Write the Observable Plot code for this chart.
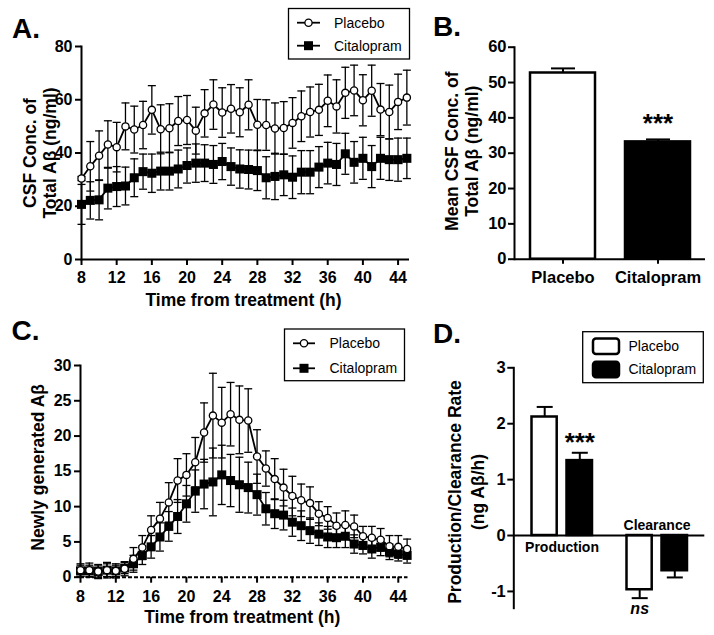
<!DOCTYPE html>
<html><head><meta charset="utf-8">
<script src="https://cdn.jsdelivr.net/npm/d3@7"></script>
<script src="https://cdn.jsdelivr.net/npm/@observablehq/plot@0.6"></script>
<style>
body{margin:0;background:#fff;}
#root{position:relative;width:714px;height:635px;overflow:hidden;background:#fff;}
</style></head><body><div id="root"></div>
<script>
// ---------------- DATA ----------------
const hours = [8,9,10,11,12,13,14,15,16,17,18,19,20,21,22,23,24,25,26,27,28,29,30,31,32,33,34,35,36,37,38,39,40,41,42,43,44,45];
const xTicks = [8,12,16,20,24,28,32,36,40,44];
const treatments = ["Placebo", "Citalopram"];

// Panel A: CSF concentration of total Abeta (ng/ml), mean and SEM
const placeboA = [30.4,35.0,39.0,43.2,42.2,50.0,48.8,50.5,56.2,48.9,49.3,52.0,52.4,48.4,54.9,58.2,55.2,56.6,55.3,58.1,50.6,50.5,49.2,49.4,51.3,53.8,55.4,56.2,59.6,57.5,62.6,63.5,59.8,63.4,56.3,55.4,59.2,60.8];
const placeboAErr = [0.8,9.3,9.3,8.9,9.3,8.8,8.8,8.9,9.1,9.2,9.2,9.2,9.2,8.8,8.9,9.3,9.3,9.1,9.2,9.4,9.5,9.5,9.6,9.9,9.5,9.5,9.4,9.6,9.7,10.0,9.6,9.5,9.6,9.6,9.8,10.1,10.4,10.3];
const citalopramA = [20.7,22.2,22.4,26.8,27.4,27.6,30.7,33.0,32.4,33.2,33.2,34.0,35.3,36.2,36.2,35.7,36.8,34.9,34.0,33.8,33.4,30.7,31.2,31.8,30.9,32.8,32.8,34.7,36.2,35.7,39.7,36.5,38.0,34.9,38.0,37.5,37.5,38.0];
const citalopramAErr = [7.5,7.0,7.5,7.8,7.5,7.1,7.1,6.6,7.2,7.1,7.1,7.1,6.6,7.2,6.9,7.1,6.8,7.0,7.2,7.3,7.5,7.9,8.7,7.8,8.0,8.1,8.1,7.7,7.8,7.9,7.7,7.8,7.9,7.9,7.9,7.8,8.1,7.6];
const yTicksA = [0,20,40,60,80];

// Panel B: mean CSF concentration
const meanB = [52.7, 33.2];
const errB = [1.3, 0.7];
const yTicksB = [0,10,20,30,40,50,60];

// Panel C: newly generated Abeta
const placeboC = [1.0,1.0,0.8,1.0,0.9,1.2,2.6,4.2,6.7,8.3,10.6,13.7,14.5,16.3,20.5,22.9,21.9,23.1,22.3,22.2,17.1,15.4,13.9,12.7,11.5,10.9,10.5,9.0,8.4,7.3,7.4,7.2,5.8,5.6,5.3,4.4,4.3,4.0];
const placeboCErr = [0.9,1.0,1.0,1.1,1.0,1.0,1.6,1.7,2.0,2.3,2.8,3.1,3.0,3.5,4.2,6.0,5.0,4.5,4.8,4.5,3.8,2.5,2.9,2.6,2.8,2.3,2.3,1.7,1.6,1.8,2.0,1.6,1.4,1.6,1.6,1.5,1.6,1.4];
const citalopramC = [0.9,0.9,0.8,1.0,0.9,1.3,1.9,3.1,4.3,5.7,7.2,8.6,10.4,12.2,13.2,13.5,14.5,13.7,13.1,12.7,11.7,9.7,9.0,8.8,7.8,7.3,6.6,6.1,5.7,5.6,5.8,4.7,4.5,4.0,4.25,3.6,3.3,3.1];
const citalopramCErr = [0.8,0.8,0.8,0.9,0.8,0.8,1.2,1.3,1.6,2.0,2.1,2.4,2.6,3.0,3.5,4.8,4.2,3.7,3.9,3.6,2.9,2.3,2.1,2.1,2.0,2.1,1.8,1.6,1.5,1.4,1.6,1.3,1.2,1.3,1.2,1.1,1.0,1.1];
const yTicksC = [0,5,10,15,20,25,30];

// Panel D: production / clearance rate (ng Abeta/h)
const groupsD = ["Production", "Clearance"];
const placeboD = [2.12, -0.97];
const placeboDErr = [0.18, 0.15];
const citalopramD = [1.34, -0.63];
const citalopramDErr = [0.14, 0.12];
const yTicksD = [-1,0,1,2,3];

// ---------------- DRAWING ----------------
const root = document.getElementById("root");
const FONT = '"Liberation Sans", Arial, Helvetica, sans-serif';
const baseStyle = {fontFamily: FONT, fontSize: "16px", fontWeight: "bold", background: "transparent", overflow: "visible", color: "black"};
const capSymbol = {draw(ctx, size) { const r = Math.sqrt(size / Math.PI); ctx.moveTo(-r, 0); ctx.lineTo(r, 0); }};

function place(svg, left, top) {
  svg.style.position = "absolute";
  svg.style.left = left + "px";
  svg.style.top = top + "px";
  svg.style.maxWidth = "none";
  root.appendChild(svg);
}
function rows(xs, means, errs) { return xs.map((x, i) => ({x, v: means[i], e: errs[i]})); }
function errorMarks(data, capR) {
  return [
    Plot.ruleX(data, {x: "x", y1: d => d.v - d.e, y2: d => d.v + d.e, stroke: "black", strokeWidth: 1.3}),
    Plot.dot(data, {x: "x", y: d => d.v + d.e, symbol: capSymbol, r: capR, fill: "none", stroke: "black", strokeWidth: 1.3}),
    Plot.dot(data, {x: "x", y: d => d.v - d.e, symbol: capSymbol, r: capR, fill: "none", stroke: "black", strokeWidth: 1.3})
  ];
}
function yTitle(text, dx, dy, lh) {
  return Plot.text([text], {frameAnchor: "left", textAnchor: "middle", lineAnchor: "middle", rotate: -90, dx, dy, lineHeight: lh, fontSize: 17.5, fontWeight: "bold"});
}
function timeCourse(o) {
  const P = rows(hours, o.placebo, o.placeboErr);
  const C = rows(hours, o.citalopram, o.citalopramErr);
  return Plot.plot({
    width: o.width, height: o.height,
    marginLeft: o.ml, marginRight: o.mr, marginTop: o.mt, marginBottom: o.mb,
    style: baseStyle,
    x: {domain: o.xDomain}, y: {domain: o.yDomain},
    marks: [
      Plot.axisY({ticks: o.yTicks, tickSize: 6, tickPadding: 3, tickFormat: d => String(d), strokeWidth: 2, fontSize: 16, fontWeight: "bold", label: null}),
      Plot.axisX({ticks: xTicks, tickSize: 6, tickPadding: o.xPad, tickFormat: d => String(d), strokeWidth: 2, fontSize: 16, fontWeight: "bold", label: null}),
      Plot.frame({anchor: "left", stroke: "black", strokeWidth: 2}),
      Plot.ruleY([o.yDomain[0]], {stroke: "black", strokeWidth: 2, strokeDasharray: o.baseDash}),
      ...errorMarks(C, 4), ...errorMarks(P, 4),
      Plot.line(C, {x: "x", y: "v", stroke: "black", strokeWidth: 1.8}),
      Plot.line(P, {x: "x", y: "v", stroke: "black", strokeWidth: 1.8}),
      Plot.dot(C, {x: "x", y: "v", symbol: "square", r: 5.1, fill: "black", stroke: "none"}),
      Plot.dot(P, {x: "x", y: "v", symbol: "circle", r: 3.6, fill: "white", stroke: "black", strokeWidth: 1.3}),
      yTitle(o.yTitle, o.yTitleDx, o.yTitleDy, o.lh),
      Plot.text(["Time from treatment (h)"], {frameAnchor: "bottom", textAnchor: "middle", lineAnchor: "middle", dx: -2, dy: o.xTitleDy, fontSize: 17.5, fontWeight: "bold"})
    ]
  });
}

// Panel A
place(timeCourse({
  width: 420, height: 310, ml: 81, mr: 11, mt: 46, mb: 51,
  xDomain: [8, 45.3], yDomain: [0, 80], yTicks: yTicksA, xPad: 6,
  placebo: placeboA, placeboErr: placeboAErr, citalopram: citalopramA, citalopramErr: citalopramAErr,
  yTitle: "CSF Conc. of\nTotal A\u03b2 (ng/ml)", yTitleDx: -42, yTitleDy: 0, lh: 1.12, xTitleDy: 41
}), 0, 0);

// Panel C
place(timeCourse({
  width: 420, height: 325, ml: 80, mr: 12.5, mt: 55, mb: 58.3,
  xDomain: [8, 45.1], yDomain: [0, 30], yTicks: yTicksC, xPad: 7, baseDash: "4,2",
  placebo: placeboC, placeboErr: placeboCErr, citalopram: citalopramC, citalopramErr: citalopramCErr,
  yTitle: "Newly generated A\u03b2", yTitleDx: -42, yTitleDy: -4, lh: 1, xTitleDy: 40
}), 0, 310);

// Panel B
const rowsB = treatments.map((t, i) => ({g: t, v: meanB[i], e: errB[i]}));
place(Plot.plot({
  width: 314, height: 310, marginLeft: 114, marginRight: 9, marginTop: 46.7, marginBottom: 51.3,
  style: baseStyle,
  x: {domain: treatments, paddingInner: 0.316, paddingOuter: 0.163},
  y: {domain: [0, 60]},
  color: {domain: treatments, range: ["white", "black"]},
  marks: [
    Plot.ruleX(rowsB, {x: "g", y1: "v", y2: d => d.v + d.e, stroke: "black", strokeWidth: 2}),
    Plot.dot(rowsB, {x: "g", y: d => d.v + d.e, symbol: capSymbol, r: 12, fill: "none", stroke: "black", strokeWidth: 2}),
    Plot.barY(rowsB, {x: "g", y: "v", fill: "g", stroke: "black", strokeWidth: 2.5}),
    Plot.axisY({ticks: yTicksB, tickSize: 6, tickPadding: 2, tickFormat: d => String(d), strokeWidth: 2, fontSize: 16.5, fontWeight: "bold", label: null}),
    Plot.axisX({tickSize: 5, tickPadding: 7, strokeWidth: 2, fontSize: 16.5, fontWeight: "bold", label: null}),
    Plot.frame({anchor: "left", stroke: "black", strokeWidth: 2}),
    Plot.ruleY([0], {stroke: "black", strokeWidth: 2}),
    Plot.text(rowsB.filter(d => d.g === "Citalopram"), {x: "g", y: d => d.v + d.e, text: () => "***", lineAnchor: "bottom", dy: -7, fontSize: 26, fontWeight: "bold"}),
    yTitle("Mean CSF Conc. of\nTotal A\u03b2 (ng/ml)", -53, -2, 1.12)
  ]
}), 400, 0);

// Panel D
const rowsD = groupsD.flatMap((g, i) => [
  {g, t: "Placebo", v: placeboD[i], e: placeboDErr[i]},
  {g, t: "Citalopram", v: citalopramD[i], e: citalopramDErr[i]}
]);
const errEnd = d => d.v + Math.sign(d.v) * d.e;
const Pd = rowsD.filter(d => d.t === "Placebo");
const Cd = rowsD.filter(d => d.t === "Citalopram");
place(Plot.plot({
  width: 314, height: 325, marginLeft: 113.3, marginRight: 9.7, marginTop: 57.3, marginBottom: 27.3,
  style: baseStyle,
  x: {domain: groupsD, paddingInner: 0.316, paddingOuter: 0.163, axis: null},
  y: {domain: [-1.3, 3]},
  color: {domain: treatments, range: ["white", "black"]},
  marks: [
    Plot.ruleX(Pd, {x: "g", y1: "v", y2: errEnd, dx: -17.3, stroke: "black", strokeWidth: 2}),
    Plot.ruleX(Cd, {x: "g", y1: "v", y2: errEnd, dx: 17.8, stroke: "black", strokeWidth: 2}),
    Plot.dot(Pd, {x: "g", y: errEnd, dx: -17.3, symbol: capSymbol, r: 8, fill: "none", stroke: "black", strokeWidth: 2}),
    Plot.dot(Cd, {x: "g", y: errEnd, dx: 17.8, symbol: capSymbol, r: 8, fill: "none", stroke: "black", strokeWidth: 2}),
    Plot.barY(Pd, {x: "g", y: "v", fill: "t", stroke: "black", strokeWidth: 2.5, insetLeft: 2.5, insetRight: 37.3}),
    Plot.barY(Cd, {x: "g", y: "v", fill: "t", stroke: "black", strokeWidth: 2.5, insetLeft: 37.5, insetRight: 2}),
    Plot.axisY({ticks: yTicksD, tickSize: 6, tickPadding: 2, tickFormat: d => String(d), strokeWidth: 2, fontSize: 16.5, fontWeight: "bold", label: null}),
    Plot.frame({anchor: "left", stroke: "black", strokeWidth: 2}),
    Plot.ruleY([0], {stroke: "black", strokeWidth: 2}),
    Plot.text(groupsD.filter(g => g === "Production"), {x: d => d, y: () => 0, text: d => d, lineAnchor: "bottom", dy: 16.7, fontSize: 14, fontWeight: "bold"}),
    Plot.text(groupsD.filter(g => g === "Clearance"), {x: d => d, y: () => 0, text: d => d, lineAnchor: "bottom", dy: -6, fontSize: 14, fontWeight: "bold"}),
    Plot.text(Cd.filter(d => d.g === "Production"), {x: "g", y: errEnd, dx: 17.8, text: () => "***", lineAnchor: "bottom", dy: -1.5, fontSize: 26, fontWeight: "bold"}),
    Plot.text(Pd.filter(d => d.g === "Clearance"), {x: "g", y: errEnd, dx: -17.3, text: () => "ns", lineAnchor: "bottom", dy: 15.4, fontSize: 16, fontWeight: "bold", fontStyle: "italic"}),
    yTitle("Production/Clearance Rate\n(ng A\u03b2/h)", -48.5, 4, 1.3)
  ]
}), 400, 310);

// ---------------- OVERLAY: panel letters and legends ----------------
const ov = d3.create("svg").attr("width", 714).attr("height", 635)
  .style("position", "absolute").style("left", "0px").style("top", "0px")
  .attr("font-family", FONT);
[["A.", 12, 38], ["B.", 433, 36], ["C.", 11.5, 340], ["D.", 433, 343]].forEach(([t, x, y]) =>
  ov.append("text").attr("x", x).attr("y", y).attr("font-size", 28).attr("font-weight", "bold").text(t));

function lineLegend(x, y, w, h, symX, lineX1, lineX2, textX, rowYs) {
  const g = ov.append("g");
  g.append("rect").attr("x", x).attr("y", y).attr("width", w).attr("height", h)
    .attr("fill", "white").attr("stroke", "black").attr("stroke-width", 1.3);
  treatments.forEach((t, i) => {
    const cy = rowYs[i];
    g.append("line").attr("x1", lineX1).attr("x2", lineX2).attr("y1", cy).attr("y2", cy)
      .attr("stroke", "black").attr("stroke-width", 1.8);
    if (t === "Placebo") g.append("circle").attr("cx", symX).attr("cy", cy).attr("r", 3.6)
      .attr("fill", "white").attr("stroke", "black").attr("stroke-width", 1.3);
    else g.append("rect").attr("x", symX - 4.5).attr("y", cy - 4.5).attr("width", 9).attr("height", 9).attr("fill", "black");
    g.append("text").attr("x", textX).attr("y", cy).attr("dy", "0.35em").attr("font-size", 14).text(t);
  });
}
lineLegend(288.5, 8.5, 121, 50.5, 308.5, 297, 320, 334, [22.7, 45.7]);
lineLegend(284.5, 329, 120, 51.7, 304, 293, 315, 329.5, [343.3, 368.3]);

{
  const g = ov.append("g");
  g.append("rect").attr("x", 582.7).attr("y", 331.7).attr("width", 120.6).attr("height", 51)
    .attr("fill", "white").attr("stroke", "black").attr("stroke-width", 1.3);
  const fills = ["white", "black"];
  [346.2, 369.5].forEach((cy, i) => {
    g.append("rect").attr("x", 593).attr("y", cy - 7.8).attr("width", 26).attr("height", 15.6).attr("rx", 3)
      .attr("fill", fills[i]).attr("stroke", "black").attr("stroke-width", 2.5);
    g.append("text").attr("x", 628.5).attr("y", cy).attr("dy", "0.35em").attr("font-size", 14).text(treatments[i]);
  });
}
root.appendChild(ov.node());
</script>
</body></html>
